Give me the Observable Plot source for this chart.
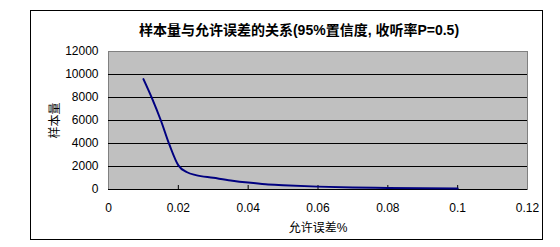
<!DOCTYPE html>
<html><head><meta charset="utf-8">
<script src="https://cdn.jsdelivr.net/npm/d3@7"></script>
<script src="https://cdn.jsdelivr.net/npm/@observablehq/plot@0.6"></script>
<style>
body{margin:0;background:#fff;}
#wrap{position:relative;width:560px;height:247px;}
#box{position:absolute;left:30px;top:10px;width:511px;height:228px;border:1px solid #000;pointer-events:none;}
svg{font-family:"Liberation Sans","Noto Sans CJK SC",sans-serif;}
</style></head>
<body><div id="wrap"><div id="box"></div></div>
<script>
const titleText = "样本量与允许误差的关系(95%置信度, 收听率P=0.5)";
const xLabel = "允许误差%";
const yLabel = "样本量";
const errors = [0.01,0.0125,0.015,0.0175,0.02,0.0225,0.025,0.03,0.035,0.04,0.045,0.05,0.06,0.07,0.08,0.09,0.1];
const sampleSizes = [9600,7900,6000,3850,2100,1500,1250,1020,790,600,450,370,250,180,140,110,90];
const xTicks = [0,0.02,0.04,0.06,0.08,0.1,0.12];
const yTicks = [0,2000,4000,6000,8000,10000,12000];
const gridTicks = [2000,4000,6000,8000,10000];

const data = errors.map((e,i)=>({e, n: sampleSizes[i]}));
const fmtX = d => d === 0 ? "0" : String(+d.toFixed(2));

const chart = Plot.plot({
  width: 560, height: 247,
  marginLeft: 108, marginRight: 33, marginTop: 51, marginBottom: 58,
  style: {background: "transparent", fontSize: "12px", color: "#000"},
  x: {domain: [0, 0.12]},
  y: {domain: [0, 12000]},
  marks: [
    Plot.frame({fill: "#c0c0c0", stroke: "#808080"}),
    Plot.ruleY(gridTicks, {stroke: "#000", strokeWidth: 1}),
    Plot.ruleY([0], {stroke: "#000", strokeWidth: 1}),
    Plot.tickX(xTicks.slice(1,-1), {x: d=>d, stroke: "#000", insetTop: 134}),
    Plot.axisY({ticks: yTicks, tickSize: 0, tickPadding: 10, tickFormat: d=>String(d),
      label: yLabel, labelAnchor: "center", labelArrow: "none", labelOffset: 58, fontSize: 12,
      style: {letterSpacing: "0.3px"}}),
    Plot.axisX({ticks: xTicks, tickSize: 0, tickPadding: 14, tickFormat: fmtX,
      label: xLabel, labelAnchor: "center", labelArrow: "none", labelOffset: 42, fontSize: 12,
      style: {letterSpacing: "1.5px"}}),
    Plot.line(data, {x: "e", y: "n", stroke: "#000080", strokeWidth: 2, curve: "monotone-x"}),
    Plot.text([titleText], {text: d=>d, frameAnchor: "top", dy: -26, dx: -19, fontSize: 14, fontWeight: "bold", fill: "#000"})
  ]
});
document.getElementById("wrap").prepend(chart);
</script></body></html>
